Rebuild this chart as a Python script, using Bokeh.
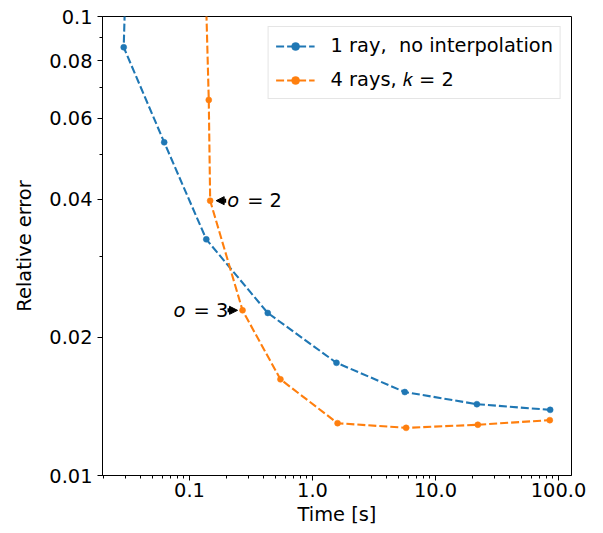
import math
from bokeh.plotting import figure
from bokeh.models import (Range1d, FixedTicker, PrintfTickFormatter, Legend, LegendItem,
                          Label, Arrow, NormalHead)
from bokeh.embed import file_html
from bokeh.resources import INLINE

# ---- data ----
time_1ray = [0.031, 0.0292, 0.0623, 0.137, 0.433, 1.567, 5.63, 21.7, 85.6]
err_1ray = [0.15, 0.0857, 0.0532, 0.0327, 0.0226, 0.0176, 0.0152, 0.0143, 0.0139]
time_4ray = [0.132, 0.1435, 0.1473, 0.270, 0.549, 1.60, 5.77, 22.1, 85.0]
err_4ray = [0.15, 0.0658, 0.0397, 0.0229, 0.0162, 0.0130, 0.0127, 0.0129, 0.0132]

series_labels = ["1 ray,\u00a0 no interpolation", "4 rays, \U0001D458 = 2"]
series_colors = ["#1f77b4", "#ff7f0e"]

x_tick_values = [0.1, 1.0, 10.0, 100.0]
x_tick_labels = ["0.1", "1.0", "10.0", "100.0"]
y_tick_values = [0.01, 0.02, 0.04, 0.06, 0.08, 0.1]
y_tick_labels = ["0.01", "0.02", "0.04", "0.06", "0.08", "0.1"]
y_minor_values = [0.03, 0.05, 0.07, 0.09]

# annotations: index into the 4-ray series, and their texts
anno_index = [2, 3]
anno_order = ["2", "3"]

X_MIN, X_MAX = 0.01963, 127.6
Y_MIN, Y_MAX = 0.01, 0.1

FONT = "DejaVu Sans"
FS = "19.4px"

W, H = 603, 533
BL, BR, BT, BB = 102, 32, 16, 58

p = figure(width=W, height=H, x_axis_type="log", y_axis_type="log",
           x_range=Range1d(X_MIN, X_MAX), y_range=Range1d(Y_MIN, Y_MAX),
           output_backend="svg", toolbar_location=None,
           min_border_left=BL, min_border_right=BR, min_border_top=BT, min_border_bottom=BB)
p.xgrid.visible = False
p.ygrid.visible = False
p.outline_line_color = "black"
p.outline_line_width = 1
p.background_fill_color = "white"
p.border_fill_color = "white"

x_minor = [m * 10.0 ** e for e in range(-2, 3) for m in range(2, 10)]
p.xaxis.ticker = FixedTicker(ticks=x_tick_values, minor_ticks=x_minor)
p.yaxis.ticker = FixedTicker(ticks=y_tick_values, minor_ticks=y_minor_values)
p.xaxis.formatter = PrintfTickFormatter(format="%.1f")
p.yaxis.formatter = PrintfTickFormatter(format="%g")
p.xaxis.major_label_overrides = {v: s for v, s in zip(x_tick_values, x_tick_labels)}
p.yaxis.major_label_overrides = {v: s for v, s in zip(y_tick_values, y_tick_labels)}
p.xaxis.axis_label = "Time [s]"
p.yaxis.axis_label = "Relative error"

for ax in (p.xaxis[0], p.yaxis[0]):
    ax.major_tick_out = 5
    ax.major_tick_in = 0
    ax.minor_tick_out = 3
    ax.minor_tick_in = 0
    ax.axis_line_color = "black"
    ax.major_tick_line_color = "black"
    ax.minor_tick_line_color = "black"
    ax.major_label_text_font = FONT
    ax.major_label_text_font_size = FS
    ax.major_label_text_color = "black"
    ax.axis_label_text_font = FONT
    ax.axis_label_text_font_size = FS
    ax.axis_label_text_font_style = "normal"
    ax.axis_label_text_color = "black"
p.yaxis.major_label_standoff = 5
p.yaxis.axis_label_standoff = 10
p.xaxis.major_label_standoff = 2
p.xaxis.axis_label_standoff = 3

items = []
for xs, ys, col, lab in zip([time_1ray, time_4ray], [err_1ray, err_4ray], series_colors, series_labels):
    lr = p.line(xs, ys, line_color=col, line_width=2.1, line_dash="8 3")
    sr = p.scatter(xs, ys, size=6, fill_color=col, line_color=col, line_width=0.5)
    items.append(LegendItem(label=lab, renderers=[lr, sr]))

legend = Legend(items=items, location="top_right",
                label_text_font=FONT, label_text_font_size=FS, label_text_color="black",
                glyph_width=39, glyph_height=20, label_height=20, label_standoff=16,
                padding=7, spacing=11, margin=10,
                border_line_color="#cccccc", border_line_width=1,
                background_fill_color="white", background_fill_alpha=0.8)
p.add_layout(legend)

# pixels per decade on x (for placing arrows next to points)
frame_w = W - BL - BR
dec_px = frame_w / (math.log10(X_MAX) - math.log10(X_MIN))


def shift(x, px):
    return x * 10.0 ** (px / dec_px)


for idx, num in zip(anno_index, anno_order):
    xp, yp = time_4ray[idx], err_4ray[idx]
    if num == "2":
        tail, tip, o_off, eq_off = 16, 6, 17, 37
    else:
        tail, tip, o_off, eq_off = -15, -5, -69, -49
    p.add_layout(Arrow(end=NormalHead(size=8, fill_color="black", line_color="black", line_width=1),
                       x_start=shift(xp, tail), y_start=yp, x_end=shift(xp, tip), y_end=yp,
                       line_color="black", line_width=4))
    p.add_layout(Label(x=xp, y=yp, x_offset=o_off, text="o", text_font=FONT, text_font_size=FS,
                       text_font_style="italic", text_baseline="middle", text_align="left",
                       text_color="black"))
    p.add_layout(Label(x=xp, y=yp, x_offset=eq_off, text="= " + num, text_font=FONT,
                       text_font_size=FS, text_baseline="middle", text_align="left",
                       text_color="black"))

open("out.html", "w").write(file_html(p, INLINE))
